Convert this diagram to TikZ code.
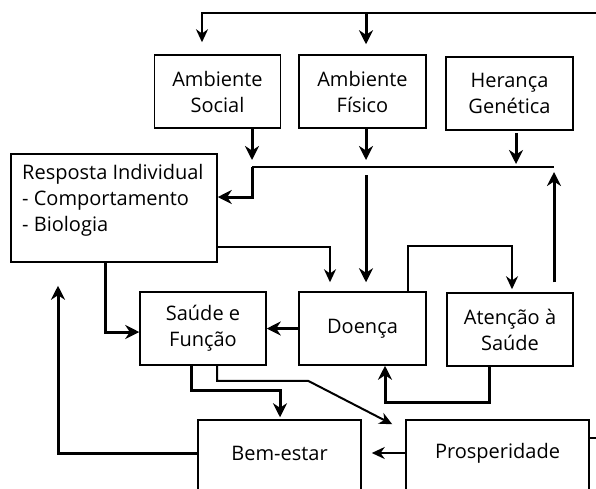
\documentclass[tikz,border=0pt]{standalone}
\usepackage{fontspec}
\setmainfont{Open Sans}
\usetikzlibrary{arrows.meta}
\begin{document}
\begin{tikzpicture}[x=1pt, y=-1pt, font=\fontsize{20}{26}\selectfont,
  caixa/.style={draw, line width=1.5pt, align=center, minimum width=126pt, minimum height=73pt, inner sep=0pt},
  texto/.style={inner sep=0pt, align=left},
  fina/.style={line width=2pt, -{Stealth[length=13pt, width=12pt]}},
  grossa/.style={line width=3pt, -{Stealth[length=14pt, width=14pt]}}]
  \useasboundingbox (0,0) rectangle (596,488);
  \clip (0,0) rectangle (596,488);
  % caixas de cima
  \node[caixa] (social) at (217.5,91.5) {Ambiente\\Social};
  \node[caixa, minimum width=127pt] (fisico) at (362.5,91.5) {Ambiente\\Físico};
  \node[caixa, minimum width=127pt] (heranca) at (509.5,93.5) {Herança\\Genética};
  \node[caixa, minimum width=206pt, minimum height=108pt] (resposta) at (114,208) {};
  \node[texto, anchor=north west] (resptexto) at (22,164) {Resposta Individual\\- Comportamento\\- Biologia};
  % caixas do meio
  \node[caixa] (saude) at (203,328.5) {Saúde e\\Função};
  \node[caixa, minimum width=127pt] (doenca) at (362.5,328.5) {Doença};
  \node[caixa] (atencao) at (510,329.5) {Atenção à\\Saúde};
  % caixas de baixo (cortadas pela margem)
  \node[caixa, minimum width=163pt, minimum height=80pt] (bemestar) at (279.5,460) {};
  \node[caixa, minimum width=183pt, minimum height=80pt] (prosp) at (497.5,460) {};
  \node[texto] (bemtexto) at (279.5,453) {Bem-estar};
  \node[texto] (prosptexto) at (497.5,453) {Prosperidade};
  \coordinate (topo) at (596,13);
  \coordinate (barraE) at (252,167);
  \coordinate (barraD) at (554,167);
  \coordinate (saida) at (596,438);
  % ligacoes
  \draw[fina, shorten >=12pt] (topo) -| ([xshift=-15.5pt]social.north);
  \draw[grossa, shorten >=10pt] ([xshift=3.5pt]fisico.north |- topo) -- ([xshift=3.5pt]fisico.north);
  \draw[line width=2pt] (barraE) -- (barraD);
  \draw[grossa, shorten >=7pt] (social.south -| barraE) -- (barraE);
  \draw[grossa, shorten >=7pt] ([xshift=3.5pt]fisico.south) -- ([xshift=3.5pt]fisico.south |- barraE);
  \draw[grossa, shorten <=2pt, shorten >=3pt] ([xshift=6.5pt]heranca.south) -- ([xshift=6.5pt]heranca.south |- barraE);
  \draw[grossa] (barraE) |- ([yshift=11pt]resposta.east);
  \draw[grossa, shorten <=10pt, shorten >=5pt] (atencao.north -| barraD) -- (barraD);
  \draw[grossa, shorten <=8pt, shorten >=9pt] ([xshift=3.5pt]doenca.north |- barraE) -- ([xshift=3.5pt]doenca.north);
  \draw[fina, shorten >=9pt] ([yshift=-39pt]resposta.east) -| ([xshift=-32.5pt]doenca.north);
  \draw[fina, shorten >=3pt] ([xshift=45.5pt]doenca.north) -- ++(0,-45) -| ([xshift=2pt]atencao.north);
  \draw[grossa] ([xshift=-21pt]atencao.south) -- ++(0,36) -| ([xshift=22.5pt]doenca.south);
  \draw[grossa] (doenca.west) -- (saude.east);
  \draw[grossa] ([xshift=-9pt]resposta.south) |- ([yshift=-3.5pt]saude.west);
  \draw[grossa, shorten >=2pt] ([xshift=-12pt]saude.south) -- ++(0,25) -| ([xshift=0.5pt]bemestar.north);
  \draw[fina] ([xshift=14pt]saude.south) -- ++(0,15) -- ++(91,0) -- ([xshift=-13pt, yshift=-5pt]prosp.north west);
  \draw[fina, shorten >=10pt] (prosp.west |- bemtexto) -- (bemestar.east |- bemtexto);
  \draw[line width=2pt] (prosp.east |- saida) -- (saida);
  \draw[grossa, shorten >=23pt] (bemestar.west |- bemtexto) -| ([xshift=-56pt]resposta.south);
\end{tikzpicture}
\end{document}
